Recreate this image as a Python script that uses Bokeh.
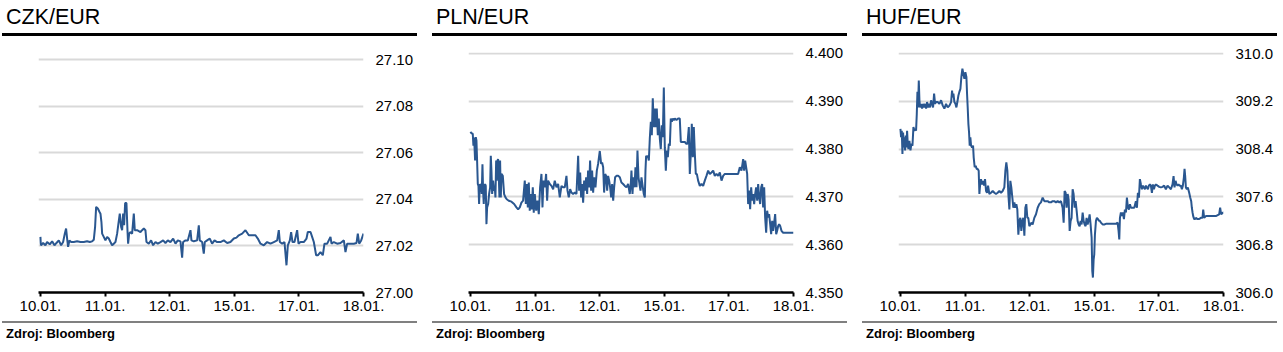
from bokeh.plotting import figure
from bokeh.models import Range1d, FixedTicker, Div, NumeralTickFormatter
from bokeh.layouts import row, column
from bokeh.embed import file_html
from bokeh.resources import INLINE

# ---------------- data ----------------
date_labels = ["10.01.", "11.01.", "12.01.", "15.01.", "17.01.", "18.01."]
date_pos = [0, 1, 2, 3, 4, 5]

czk_ticks = [27.00, 27.02, 27.04, 27.06, 27.08, 27.10]
pln_ticks = [4.350, 4.360, 4.370, 4.380, 4.390, 4.400]
huf_ticks = [306.0, 306.8, 307.6, 308.4, 309.2, 310.0]

# (trading-time position, rate)
czk = [
    (0.000, 27.0239), (0.005, 27.0210), (0.010, 27.0203), (0.041, 27.0213), (0.077, 27.0203),
    (0.103, 27.0217), (0.144, 27.0207), (0.181, 27.0220), (0.217, 27.0203), (0.248, 27.0213),
    (0.284, 27.0224), (0.320, 27.0203), (0.351, 27.0217), (0.377, 27.0253), (0.397, 27.0275),
    (0.413, 27.0232), (0.428, 27.0196), (0.449, 27.0224), (0.475, 27.0217), (0.516, 27.0217),
    (0.568, 27.0220), (0.619, 27.0217), (0.671, 27.0217), (0.722, 27.0220), (0.764, 27.0217),
    (0.800, 27.0220), (0.826, 27.0227), (0.846, 27.0282), (0.862, 27.0368), (0.888, 27.0361),
    (0.913, 27.0347), (0.929, 27.0339), (0.944, 27.0303), (0.955, 27.0253), (0.980, 27.0239),
    (1.006, 27.0224), (1.032, 27.0239), (1.058, 27.0232), (1.084, 27.0217), (1.109, 27.0203),
    (1.135, 27.0210), (1.161, 27.0217), (1.187, 27.0253), (1.207, 27.0296), (1.228, 27.0339),
    (1.249, 27.0282), (1.264, 27.0268), (1.280, 27.0339), (1.295, 27.0289), (1.311, 27.0385),
    (1.331, 27.0385), (1.347, 27.0268), (1.357, 27.0210), (1.373, 27.0253), (1.393, 27.0260),
    (1.419, 27.0253), (1.445, 27.0339), (1.460, 27.0268), (1.496, 27.0268), (1.548, 27.0260),
    (1.574, 27.0268), (1.600, 27.0275), (1.625, 27.0268), (1.641, 27.0217), (1.677, 27.0210),
    (1.713, 27.0224), (1.744, 27.0203), (1.780, 27.0217), (1.816, 27.0210), (1.858, 27.0217),
    (1.899, 27.0224), (1.935, 27.0213), (1.971, 27.0224), (2.012, 27.0217), (2.054, 27.0232),
    (2.090, 27.0210), (2.126, 27.0224), (2.167, 27.0220), (2.193, 27.0150), (2.208, 27.0217),
    (2.245, 27.0224), (2.281, 27.0224), (2.322, 27.0268), (2.337, 27.0224), (2.374, 27.0220),
    (2.425, 27.0224), (2.451, 27.0289), (2.466, 27.0224), (2.503, 27.0217), (2.528, 27.0167),
    (2.544, 27.0217), (2.580, 27.0224), (2.621, 27.0232), (2.657, 27.0210), (2.694, 27.0224),
    (2.735, 27.0217), (2.786, 27.0217), (2.838, 27.0224), (2.890, 27.0213), (2.941, 27.0217),
    (2.993, 27.0232), (3.034, 27.0236), (3.070, 27.0246), (3.122, 27.0253), (3.173, 27.0268),
    (3.225, 27.0246), (3.277, 27.0246), (3.328, 27.0246), (3.364, 27.0232), (3.406, 27.0210),
    (3.457, 27.0203), (3.509, 27.0217), (3.560, 27.0210), (3.612, 27.0217), (3.664, 27.0224),
    (3.689, 27.0268), (3.705, 27.0217), (3.741, 27.0210), (3.777, 27.0217), (3.808, 27.0117),
    (3.829, 27.0203), (3.860, 27.0224), (3.880, 27.0260), (3.901, 27.0217), (3.932, 27.0217),
    (3.973, 27.0268), (3.994, 27.0210), (4.025, 27.0217), (4.076, 27.0217), (4.118, 27.0232),
    (4.138, 27.0260), (4.180, 27.0260), (4.205, 27.0239), (4.231, 27.0217), (4.267, 27.0160),
    (4.293, 27.0160), (4.334, 27.0174), (4.370, 27.0160), (4.396, 27.0210), (4.438, 27.0210),
    (4.489, 27.0239), (4.505, 27.0210), (4.541, 27.0217), (4.592, 27.0210), (4.644, 27.0213),
    (4.696, 27.0224), (4.721, 27.0174), (4.747, 27.0210), (4.799, 27.0210), (4.850, 27.0210),
    (4.892, 27.0213), (4.912, 27.0253), (4.933, 27.0210), (4.964, 27.0224), (5.000, 27.0253),
]

pln = [
    (0.000, 4.3836), (0.015, 4.3833), (0.036, 4.3832), (0.046, 4.3807), (0.057, 4.3824),
    (0.072, 4.3776), (0.083, 4.3825), (0.093, 4.3818), (0.103, 4.3776), (0.114, 4.3727),
    (0.124, 4.3723), (0.134, 4.3685), (0.145, 4.3727), (0.155, 4.3720), (0.165, 4.3727),
    (0.175, 4.3706), (0.186, 4.3768), (0.196, 4.3713), (0.206, 4.3685), (0.217, 4.3723),
    (0.227, 4.3727), (0.237, 4.3723), (0.248, 4.3643), (0.258, 4.3678), (0.274, 4.3685),
    (0.289, 4.3706), (0.305, 4.3720), (0.315, 4.3786), (0.325, 4.3755), (0.336, 4.3706),
    (0.351, 4.3734), (0.366, 4.3713), (0.377, 4.3720), (0.387, 4.3699), (0.398, 4.3776),
    (0.408, 4.3734), (0.418, 4.3776), (0.428, 4.3779), (0.439, 4.3741), (0.449, 4.3699),
    (0.459, 4.3776), (0.470, 4.3699), (0.480, 4.3748), (0.501, 4.3744), (0.521, 4.3706),
    (0.542, 4.3699), (0.562, 4.3695), (0.593, 4.3692), (0.635, 4.3690), (0.676, 4.3685),
    (0.712, 4.3678), (0.738, 4.3674), (0.764, 4.3678), (0.789, 4.3688), (0.815, 4.3692),
    (0.841, 4.3734), (0.857, 4.3685), (0.872, 4.3727), (0.888, 4.3678), (0.903, 4.3730),
    (0.918, 4.3671), (0.934, 4.3706), (0.949, 4.3674), (0.965, 4.3720), (0.980, 4.3667),
    (0.996, 4.3706), (1.017, 4.3671), (1.037, 4.3692), (1.058, 4.3664), (1.078, 4.3720),
    (1.099, 4.3748), (1.115, 4.3678), (1.130, 4.3734), (1.151, 4.3720), (1.171, 4.3748),
    (1.187, 4.3692), (1.202, 4.3734), (1.228, 4.3727), (1.254, 4.3723), (1.280, 4.3716),
    (1.305, 4.3734), (1.331, 4.3720), (1.357, 4.3727), (1.383, 4.3699), (1.409, 4.3723),
    (1.434, 4.3720), (1.460, 4.3720), (1.486, 4.3744), (1.502, 4.3713), (1.522, 4.3699),
    (1.543, 4.3716), (1.563, 4.3709), (1.589, 4.3706), (1.615, 4.3709), (1.641, 4.3706),
    (1.667, 4.3786), (1.682, 4.3713), (1.698, 4.3751), (1.713, 4.3699), (1.729, 4.3727),
    (1.744, 4.3688), (1.760, 4.3734), (1.775, 4.3713), (1.791, 4.3741), (1.806, 4.3706),
    (1.821, 4.3755), (1.837, 4.3720), (1.852, 4.3776), (1.868, 4.3713), (1.883, 4.3755),
    (1.899, 4.3709), (1.915, 4.3741), (1.935, 4.3720), (1.956, 4.3755), (1.976, 4.3769),
    (2.002, 4.3796), (2.023, 4.3769), (2.038, 4.3772), (2.054, 4.3762), (2.069, 4.3709),
    (2.085, 4.3748), (2.100, 4.3744), (2.116, 4.3713), (2.131, 4.3744), (2.147, 4.3734),
    (2.162, 4.3720), (2.178, 4.3699), (2.193, 4.3727), (2.209, 4.3692), (2.224, 4.3720),
    (2.239, 4.3741), (2.260, 4.3744), (2.286, 4.3744), (2.312, 4.3741), (2.337, 4.3730),
    (2.363, 4.3727), (2.389, 4.3723), (2.415, 4.3720), (2.441, 4.3727), (2.466, 4.3706),
    (2.482, 4.3727), (2.492, 4.3755), (2.508, 4.3706), (2.523, 4.3741), (2.539, 4.3720),
    (2.554, 4.3762), (2.570, 4.3720), (2.585, 4.3797), (2.601, 4.3741), (2.616, 4.3727),
    (2.632, 4.3713), (2.647, 4.3741), (2.668, 4.3720), (2.683, 4.3706), (2.699, 4.3699),
    (2.709, 4.3755), (2.719, 4.3786), (2.730, 4.3783), (2.745, 4.3786), (2.761, 4.3776),
    (2.776, 4.3822), (2.792, 4.3857), (2.807, 4.3829), (2.822, 4.3906), (2.838, 4.3846),
    (2.853, 4.3885), (2.869, 4.3846), (2.884, 4.3885), (2.900, 4.3829), (2.915, 4.3864),
    (2.931, 4.3822), (2.946, 4.3800), (2.962, 4.3850), (2.977, 4.3825), (2.993, 4.3929),
    (3.008, 4.3804), (3.024, 4.3755), (3.039, 4.3797), (3.055, 4.3783), (3.070, 4.3811),
    (3.086, 4.3807), (3.101, 4.3864), (3.117, 4.3857), (3.132, 4.3864), (3.148, 4.3860),
    (3.163, 4.3864), (3.189, 4.3861), (3.215, 4.3864), (3.240, 4.3864), (3.256, 4.3815),
    (3.277, 4.3815), (3.297, 4.3815), (3.318, 4.3815), (3.338, 4.3811), (3.359, 4.3811),
    (3.380, 4.3846), (3.395, 4.3748), (3.411, 4.3790), (3.426, 4.3853), (3.442, 4.3783),
    (3.457, 4.3846), (3.473, 4.3790), (3.488, 4.3748), (3.504, 4.3748), (3.524, 4.3734),
    (3.550, 4.3723), (3.576, 4.3727), (3.602, 4.3723), (3.627, 4.3734), (3.653, 4.3744),
    (3.679, 4.3755), (3.705, 4.3748), (3.731, 4.3751), (3.757, 4.3755), (3.782, 4.3744),
    (3.808, 4.3748), (3.834, 4.3744), (3.860, 4.3751), (3.886, 4.3734), (3.911, 4.3744),
    (3.937, 4.3748), (3.989, 4.3748), (4.040, 4.3748), (4.092, 4.3748), (4.143, 4.3748),
    (4.169, 4.3762), (4.195, 4.3755), (4.221, 4.3779), (4.236, 4.3755), (4.252, 4.3776),
    (4.267, 4.3762), (4.283, 4.3748), (4.298, 4.3685), (4.314, 4.3713), (4.329, 4.3674),
    (4.345, 4.3720), (4.360, 4.3692), (4.376, 4.3706), (4.391, 4.3685), (4.407, 4.3706),
    (4.422, 4.3720), (4.438, 4.3692), (4.453, 4.3727), (4.469, 4.3699), (4.484, 4.3685),
    (4.500, 4.3720), (4.515, 4.3727), (4.530, 4.3678), (4.546, 4.3720), (4.561, 4.3657),
    (4.577, 4.3625), (4.592, 4.3671), (4.608, 4.3657), (4.623, 4.3664), (4.639, 4.3643),
    (4.654, 4.3622), (4.670, 4.3650), (4.685, 4.3629), (4.701, 4.3646), (4.716, 4.3664),
    (4.732, 4.3622), (4.747, 4.3629), (4.763, 4.3639), (4.778, 4.3643), (4.794, 4.3639),
    (4.814, 4.3629), (4.840, 4.3625), (4.892, 4.3625), (4.943, 4.3625), (5.000, 4.3625),
]

huf = [
    (0.000, 308.74), (0.010, 308.60), (0.021, 308.71), (0.031, 308.32), (0.041, 308.68),
    (0.052, 308.43), (0.062, 308.60), (0.072, 308.38), (0.082, 308.63), (0.093, 308.43),
    (0.103, 308.71), (0.113, 308.49), (0.124, 308.40), (0.139, 308.54), (0.155, 308.38),
    (0.170, 308.49), (0.186, 308.46), (0.201, 308.77), (0.216, 308.71), (0.232, 308.74),
    (0.242, 308.71), (0.253, 308.99), (0.263, 309.36), (0.273, 309.10), (0.284, 309.55),
    (0.294, 309.22), (0.304, 309.10), (0.320, 309.16), (0.335, 309.08), (0.351, 309.16),
    (0.366, 309.10), (0.381, 309.16), (0.397, 309.08), (0.412, 309.19), (0.428, 309.10),
    (0.443, 309.16), (0.459, 309.10), (0.474, 309.22), (0.490, 309.16), (0.505, 309.10),
    (0.521, 309.33), (0.536, 309.16), (0.552, 309.19), (0.577, 309.19), (0.603, 309.16),
    (0.629, 309.22), (0.655, 309.13), (0.680, 309.08), (0.706, 309.16), (0.732, 309.10),
    (0.758, 309.13), (0.784, 309.19), (0.799, 309.38), (0.809, 309.27), (0.820, 309.33),
    (0.835, 309.19), (0.851, 309.16), (0.866, 309.10), (0.881, 309.19), (0.897, 309.30),
    (0.912, 309.36), (0.928, 309.41), (0.943, 309.61), (0.959, 309.75), (0.974, 309.66),
    (0.990, 309.58), (1.005, 309.69), (1.021, 309.61), (1.031, 309.33), (1.041, 309.10),
    (1.052, 308.82), (1.062, 308.68), (1.072, 308.46), (1.082, 308.60), (1.093, 308.46),
    (1.108, 308.43), (1.124, 308.46), (1.134, 308.26), (1.149, 308.10), (1.165, 308.12),
    (1.180, 308.07), (1.196, 308.07), (1.211, 308.04), (1.222, 307.65), (1.232, 307.79),
    (1.247, 307.90), (1.263, 307.81), (1.278, 307.87), (1.294, 307.79), (1.309, 307.90),
    (1.325, 307.70), (1.340, 307.67), (1.356, 307.79), (1.376, 307.65), (1.402, 307.67),
    (1.428, 307.70), (1.454, 307.67), (1.479, 307.65), (1.505, 307.67), (1.531, 307.70),
    (1.557, 307.67), (1.582, 307.70), (1.608, 307.76), (1.624, 308.04), (1.639, 308.18),
    (1.655, 308.04), (1.670, 307.65), (1.686, 307.39), (1.701, 307.87), (1.716, 307.76),
    (1.732, 307.59), (1.747, 307.42), (1.763, 307.51), (1.778, 307.42), (1.794, 307.48),
    (1.809, 307.39), (1.825, 306.97), (1.840, 307.20), (1.856, 307.25), (1.871, 307.03),
    (1.887, 307.20), (1.902, 307.25), (1.918, 306.95), (1.933, 307.42), (1.948, 307.48),
    (1.964, 307.25), (1.979, 307.25), (1.995, 307.11), (2.010, 307.14), (2.026, 307.17),
    (2.046, 307.14), (2.072, 307.25), (2.098, 307.31), (2.124, 307.42), (2.149, 307.48),
    (2.175, 307.51), (2.201, 307.59), (2.227, 307.53), (2.253, 307.53), (2.278, 307.53),
    (2.304, 307.51), (2.330, 307.51), (2.356, 307.53), (2.381, 307.53), (2.407, 307.51),
    (2.433, 307.53), (2.459, 307.51), (2.485, 307.53), (2.510, 307.42), (2.526, 307.17),
    (2.541, 307.70), (2.557, 307.67), (2.572, 307.42), (2.588, 307.65), (2.603, 307.56),
    (2.619, 307.03), (2.634, 307.20), (2.649, 307.25), (2.665, 307.73), (2.680, 307.65),
    (2.696, 307.42), (2.711, 307.53), (2.727, 307.37), (2.742, 307.20), (2.758, 307.14),
    (2.773, 307.11), (2.789, 307.20), (2.804, 307.14), (2.820, 307.34), (2.835, 307.20),
    (2.851, 307.14), (2.866, 307.11), (2.881, 307.25), (2.897, 307.14), (2.912, 307.20),
    (2.928, 307.31), (2.943, 307.14), (2.959, 306.92), (2.969, 306.36), (2.979, 306.25),
    (2.990, 306.55), (3.000, 306.64), (3.010, 306.97), (3.026, 307.20), (3.041, 307.25),
    (3.057, 307.23), (3.072, 307.20), (3.088, 307.20), (3.103, 307.17), (3.129, 307.14),
    (3.155, 307.14), (3.180, 307.15), (3.232, 307.15), (3.284, 307.15), (3.335, 307.15),
    (3.361, 307.17), (3.376, 307.03), (3.387, 306.89), (3.397, 307.25), (3.412, 307.34),
    (3.428, 307.28), (3.443, 307.34), (3.459, 307.23), (3.474, 307.39), (3.490, 307.34),
    (3.505, 307.59), (3.521, 307.42), (3.536, 307.39), (3.552, 307.48), (3.567, 307.42),
    (3.593, 307.42), (3.619, 307.42), (3.644, 307.53), (3.660, 307.42), (3.675, 307.67),
    (3.691, 307.59), (3.706, 307.90), (3.722, 307.81), (3.737, 307.73), (3.753, 307.79),
    (3.768, 307.76), (3.784, 307.73), (3.799, 307.79), (3.814, 307.76), (3.830, 307.73),
    (3.845, 307.79), (3.861, 307.81), (3.876, 307.79), (3.892, 307.67), (3.907, 307.81),
    (3.923, 307.73), (3.938, 307.79), (3.954, 307.81), (3.979, 307.79), (4.005, 307.77),
    (4.031, 307.76), (4.057, 307.77), (4.082, 307.79), (4.108, 307.73), (4.134, 307.79),
    (4.160, 307.76), (4.186, 307.73), (4.211, 307.81), (4.227, 307.95), (4.242, 307.76),
    (4.258, 307.87), (4.273, 307.81), (4.289, 307.79), (4.304, 307.81), (4.320, 307.79),
    (4.340, 307.79), (4.356, 307.73), (4.371, 307.79), (4.387, 307.93), (4.397, 308.07),
    (4.407, 307.95), (4.418, 307.76), (4.433, 307.73), (4.448, 307.76), (4.469, 307.67),
    (4.485, 307.59), (4.500, 307.53), (4.510, 307.42), (4.521, 307.34), (4.531, 307.28),
    (4.546, 307.23), (4.562, 307.23), (4.572, 307.25), (4.598, 307.23), (4.624, 307.23),
    (4.649, 307.25), (4.675, 307.25), (4.686, 307.39), (4.701, 307.25), (4.727, 307.28),
    (4.778, 307.28), (4.830, 307.28), (4.881, 307.28), (4.933, 307.31), (4.948, 307.42),
    (4.964, 307.31), (4.995, 307.34), (5.000, 307.34),
]

# ---------------- styling ----------------
FONT = "Liberation Sans"
LINE_COLOR = "#2a5790"
GRID_COLOR = "#d9d9d9"


def header(title, w):
    html = (
        f'<div style="position:relative;width:{w}px;height:36px;overflow:hidden;">'
        f'<div style="position:absolute;left:6px;top:5px;font-family:\'{FONT}\',Arial,sans-serif;'
        f'font-size:21.5px;line-height:24px;color:#000;white-space:nowrap;">{title}</div>'
        f'<div style="position:absolute;left:2px;top:33px;width:415px;height:3px;background:#000;"></div>'
        f'</div>'
    )
    return Div(text=html, width=w, height=36, margin=0)


def footer(w):
    html = (
        f'<div style="position:relative;width:{w}px;height:32px;overflow:hidden;">'
        f'<div style="position:absolute;left:2px;top:1px;width:415px;height:2px;background:#808080;"></div>'
        f'<div style="position:absolute;left:6px;top:6px;font-family:\'{FONT}\',Arial,sans-serif;'
        f'font-size:13px;line-height:16px;font-weight:bold;color:#000;white-space:nowrap;">Zdroj: Bloomberg</div>'
        f'</div>'
    )
    return Div(text=html, width=w, height=32, margin=0)


def chart(series, ticks, y0, y1, fmt, w):
    xs = [pt[0] for pt in series]
    ys = [pt[1] for pt in series]
    p = figure(
        width=w, height=284,
        x_range=Range1d(-0.03, 5.0), y_range=Range1d(y0, y1),
        output_backend="svg", toolbar_location=None,
        x_axis_location="below", y_axis_location="right",
        min_border_left=38, min_border_right=w - 38 - 325,
        min_border_top=16, min_border_bottom=28,
    )
    p.outline_line_color = None
    p.background_fill_color = "white"
    p.border_fill_color = "white"

    p.line(xs, ys, line_color=LINE_COLOR, line_width=2)

    # x axis
    xa = p.xaxis[0]
    xa.ticker = FixedTicker(ticks=date_pos)
    xa.major_label_overrides = {pos: lab for pos, lab in zip(date_pos, date_labels)}
    xa.axis_line_color = "black"
    xa.axis_line_width = 2.5
    xa.major_tick_line_color = "black"
    xa.major_tick_line_width = 2
    xa.major_tick_in = 0
    xa.major_tick_out = 4
    xa.minor_tick_line_color = None
    xa.major_label_text_font = FONT
    xa.major_label_text_font_size = "15px"
    xa.major_label_text_color = "black"
    xa.major_label_standoff = 4

    # y axis (right)
    ya = p.yaxis[0]
    ya.ticker = FixedTicker(ticks=ticks)
    ya.formatter = NumeralTickFormatter(format=fmt)
    ya.axis_line_color = None
    ya.major_tick_line_color = None
    ya.minor_tick_line_color = None
    ya.major_tick_in = 0
    ya.major_tick_out = 0
    ya.major_label_standoff = 12
    ya.major_label_text_font = FONT
    ya.major_label_text_font_size = "15px"
    ya.major_label_text_color = "black"

    p.xgrid.visible = False
    p.ygrid.ticker = FixedTicker(ticks=ticks)
    p.ygrid.grid_line_color = GRID_COLOR
    p.ygrid.grid_line_width = 2
    return p


panels = [
    ("CZK/EUR", czk, czk_ticks, 27.0, 27.1032, "0.00", 430),
    ("PLN/EUR", pln, pln_ticks, 4.350, 4.4002, "0.000", 430),
    ("HUF/EUR", huf, huf_ticks, 306.0, 310.02, "0.0", 423),
]

cols = []
for title, series, ticks, y0, y1, fmt, w in panels:
    cols.append(column(header(title, w), chart(series, ticks, y0, y1, fmt, w), footer(w), spacing=0))

layout = row(*cols, spacing=0)

open("out.html", "w").write(file_html(layout, INLINE))
